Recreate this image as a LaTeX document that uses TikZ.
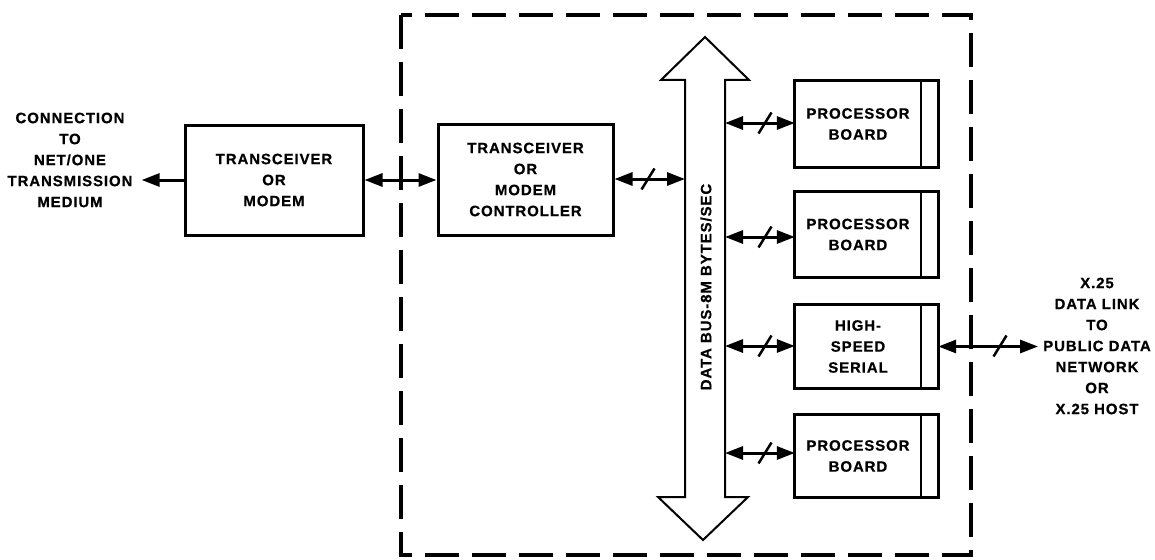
\documentclass[tikz,border=0pt]{standalone}
\usepackage{fontspec}
\setmainfont{Liberation Sans}[LetterSpace=6, BoldFeatures={FakeBold=0.5}]
\usetikzlibrary{arrows.meta,calc}
\tikzset{
  lbl/.style={font=\fontsize{15}{21}\selectfont\bfseries, align=center, inner sep=0pt},
  box/.style={draw, line width=3pt, lbl},
  conn/.style={line width=3pt},
  tip/.style={-{Triangle[length=18pt,width=13pt]}},
  tips/.style={{Triangle[length=18pt,width=13pt]}-{Triangle[length=18pt,width=13pt]}},
  slash/.style={line width=2.5pt},
  border/.style={line width=4pt, dash pattern=on 34pt off 13pt},
  busline/.style={line width=2pt, line join=miter},
  inner/.style={line width=1.5pt}
}
\begin{document}
\begin{tikzpicture}[x=1pt,y=-1pt]
\useasboundingbox (0,0) rectangle (1155,559);
% dashed enclosure
\draw[border] (401,15) rectangle (971,555);
% left text
\node[lbl] (lt) at (70,160) {CONNECTION\\TO\\NET/ONE\\TRANSMISSION\\MEDIUM};
% transceiver / modem
\node[box, minimum width=178pt, minimum height=110pt] (m) at (274,180) {TRANSCEIVER\\OR\\MODEM};
% controller
\node[box, minimum width=175pt, minimum height=111pt] (c) at (525.5,179.5) {TRANSCEIVER\\OR\\MODEM\\CONTROLLER};
% bus
\draw[busline] (685,80) -- (661,80) -- (705,37) -- (749,80) -- (725,80)
  -- (725,497) -- (748,497) -- (703,540) -- (658,497) -- (685,497) -- cycle;
\node[lbl, rotate=90] (bt) at (706,287) {DATA BUS-8M BYTES/SEC};
\coordinate (busL) at (685,179);
\coordinate (bus1) at (725,123);
\coordinate (bus2) at (725,237);
\coordinate (bus3) at (725,346);
\coordinate (bus4) at (725,453);
% boards
\foreach \n/\y/\h/\t in {b1/124/86/{PROCESSOR\\BOARD}, b2/234.5/85/{PROCESSOR\\BOARD}, b3/346.5/83/{HIGH-\\SPEED\\SERIAL}, b4/456/82/{PROCESSOR\\BOARD}}{
  \node[lbl, minimum width=126pt, minimum height=\h pt] (\n) at (858,\y) {\t};
  \draw[line width=3pt] (\n.north west) rectangle ([xshift=17pt]\n.south east);
  \draw[inner] (\n.north east) -- (\n.south east);
}
\coordinate (b3r) at ([xshift=17pt]b3.east);
% right text
\node[lbl] (rt) at (1097,346) {X.25\\DATA LINK\\TO\\PUBLIC DATA\\NETWORK\\OR\\X.25 HOST};
% connectors
\draw[conn, tip, shorten >=9pt] (m.west) -- (m.west -| lt.east);
\draw[conn, tips] (m.east) -- (c.west |- m.east);
\draw[conn, tips] (c.east |- busL) -- (busL);
\draw[slash] (641.5,189.5) -- (654.5,168.5);
\foreach \k in {1,2,3,4}{
  \draw[conn, tips] (bus\k) -- (bus\k -| b1.west);
  \draw[slash] ($(bus\k)+(33.5,10.5)$) -- ($(bus\k)+(46.5,-10.5)$);
}
\draw[conn, tips, shorten >=5pt] (b3r) -- (b3r -| rt.west);
\draw[slash] (993.5,356.5) -- (1006.5,335.5);
\end{tikzpicture}
\end{document}
